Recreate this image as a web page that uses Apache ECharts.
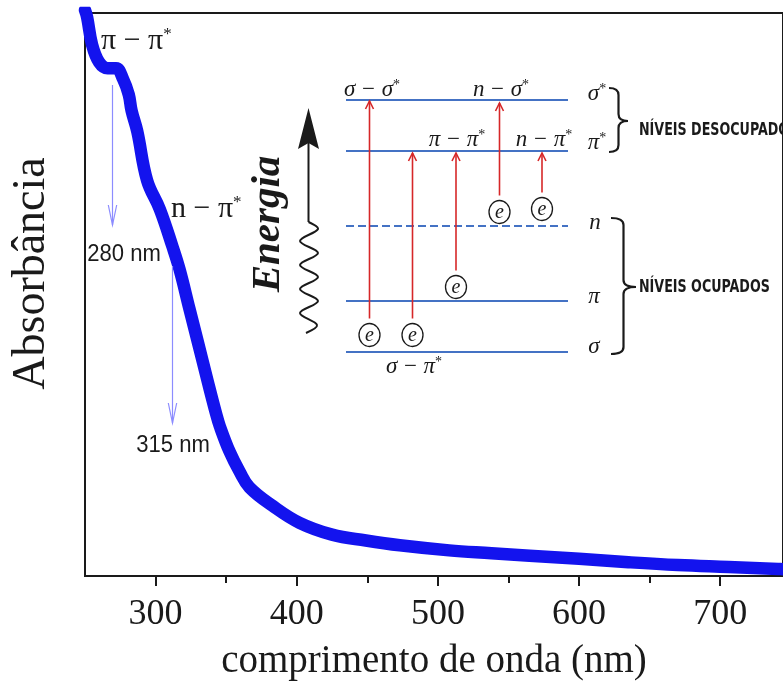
<!DOCTYPE html>
<html>
<head>
<meta charset="utf-8">
<script src="https://cdn.jsdelivr.net/npm/echarts@6/dist/echarts.min.js"></script>
<style>
  html, body { margin: 0; padding: 0; background: #fff; }
  #chart { width: 783px; height: 686px; }
</style>
</head>
<body>
<div id="chart"></div>
<script>
// ---- data (wavelength in nm, absorbance in arbitrary units) ----
const wavelength = [250, 251.5, 255, 260, 266, 272, 277, 281, 283, 287, 294, 303, 312, 317, 324, 330, 337, 343, 345.5, 352.5, 359.5, 366.5, 383, 402, 425, 449, 473, 508, 538, 565, 600, 635, 670, 706, 741, 746];
const absorbance = [2.01, 1.985, 1.888, 1.825, 1.804, 1.804, 1.765, 1.71, 1.653, 1.580, 1.405, 1.303, 1.170, 1.089, 0.949, 0.830, 0.690, 0.574, 0.532, 0.441, 0.371, 0.315, 0.249, 0.189, 0.147, 0.126, 0.109, 0.091, 0.081, 0.072, 0.061, 0.049, 0.039, 0.032, 0.025, 0.024];
const majorTicks = [300, 400, 500, 600, 700];
const minorTicks = [350, 450, 550, 650];
const xTitle = 'comprimento de onda (nm)';
const yTitle = 'Absorbância';

const ink = '#1a1a1a';
const levelBlue = '#4472c4';
const arrowRed = '#d62728';
const serif = "'Liberation Serif', 'Times New Roman', serif";
const sans = "'Liberation Sans', Arial, sans-serif";

const g = [];
function line(x1, y1, x2, y2, stroke, w, dash) {
  g.push({ type: 'line', z: 100, shape: { x1, y1, x2, y2 }, style: { stroke, lineWidth: w, lineDash: dash || null } });
}
function poly(points, stroke, w) {
  g.push({ type: 'polyline', z: 100, shape: { points }, style: { stroke, lineWidth: w, fill: null } });
}
function quad(x1, y1, cx, cy, x2, y2, w) {
  g.push({ type: 'bezierCurve', z: 100, shape: { x1, y1, x2, y2, cpx1: cx, cpy1: cy }, style: { stroke: ink, lineWidth: w, fill: null } });
}
function txt(x, y, text, font, extra) {
  g.push(Object.assign({ type: 'text', z: 101, x, y, style: Object.assign({ text, font, fill: ink, align: 'center', verticalAlign: 'middle' }, (extra && extra.style) || {}) }, (extra && extra.el) || {}));
}
function brace(x0, yTop, yBot, xTip, yMid) {
  const xs = (x0 + xTip) / 2, r = 7, w = 2.2;
  quad(x0, yTop, xs, yTop, xs, yTop + r, w);
  line(xs, yTop + r, xs, yMid - r, ink, w);
  quad(xs, yMid - r, xs, yMid, xTip, yMid, w);
  quad(xTip, yMid, xs, yMid, xs, yMid + r, w);
  line(xs, yMid + r, xs, yBot - r, ink, w);
  quad(xs, yBot - r, xs, yBot, x0, yBot, w);
}

// ---- annotations on the spectrum ----
const lightArrow = '#8c8cff';
line(112.5, 85, 112.5, 225, lightArrow, 1.2);
poly([[108.3, 205], [112.5, 225], [116.7, 205]], lightArrow, 1.2);
line(172.5, 266, 172.5, 423, lightArrow, 1.2);
poly([[168.3, 403], [172.5, 423], [176.7, 403]], lightArrow, 1.2);
const richPi = { a: { font: '30px ' + serif, fill: ink }, s: { font: '17px ' + serif, fill: ink, verticalAlign: 'top', padding: [0, 0, 12, 0] } };
txt(101, 41, '{a|π − π}{s|*}', null, { style: { rich: richPi, align: 'left' } });
txt(171, 209, '{a|n − π}{s|*}', null, { style: { rich: richPi, align: 'left' } });
txt(124, 254, '280 nm', '23px ' + sans, { el: { scaleY: 1.08, scaleX: 0.96 } });
txt(173, 445, '315 nm', '23px ' + sans, { el: { scaleY: 1.08, scaleX: 0.96 } });

// ---- energy-level inset ----
const levels = [100, 151, 226, 301, 352];
levels.forEach((y, i) => line(346, y, 568, y, levelBlue, 2, i === 2 ? [8, 4] : null));

const electrons = [[369.5, 335, 101], [412.5, 335, 153], [456, 287, 153], [499.5, 212, 103], [542, 209, 153]];
electrons.forEach(([x, y, tip]) => {
  line(x, y - 16.5, x, tip, arrowRed, 1.6);
  poly([[x - 4, tip + 8], [x, tip], [x + 4, tip + 8]], arrowRed, 1.6);
  g.push({ type: 'ellipse', z: 100, shape: { cx: x, cy: y, rx: 10.5, ry: 11.5 }, style: { stroke: ink, lineWidth: 1.3, fill: '#fff' } });
  txt(x, y + 1, 'e', 'italic 20px ' + serif);
});

const richLab = { i: { font: 'italic 23px ' + serif, fill: ink }, r: { font: '23px ' + serif, fill: ink }, s: { font: '14px ' + serif, fill: ink, verticalAlign: 'top', padding: [0, 0, 10, 0] } };
function lab(x, y, s) { txt(x, y, s, null, { style: { rich: richLab } }); }
lab(372, 90, '{i|σ}  {r|−}  {i|σ}{s|*}');
lab(501, 90, '{i|n}  {r|−}  {i|σ}{s|*}');
lab(457, 140, '{i|π}  {r|−}  {i|π}{s|*}');
lab(544, 140, '{i|n}  {r|−}  {i|π}{s|*}');
lab(414, 367, '{i|σ}  {r|−}  {i|π}{s|*}');
lab(597, 94, '{i|σ}{s|*}');
lab(597, 143, '{i|π}{s|*}');
lab(595, 223, '{i|n}');
lab(594, 297, '{i|π}');
lab(594, 347, '{i|σ}');

brace(609, 88, 152, 628, 121);
brace(611, 218, 354, 636, 287);
const capsFont = "bold 17px 'DejaVu Sans Condensed', 'Liberation Sans Narrow', sans-serif";
txt(639, 131, 'NÍVEIS DESOCUPADOS', capsFont, { style: { align: 'left' }, el: { scaleX: 0.83 } });
txt(639, 288, 'NÍVEIS OCUPADOS', capsFont, { style: { align: 'left' }, el: { scaleX: 0.83 } });

// energy arrow with wavy part
line(308.5, 140, 308.5, 222, ink, 2);
g.push({ type: 'polyline', z: 100, shape: { smooth: 0.35, points: [[308.5, 222], [318, 229], [300, 241], [318, 253], [300, 265], [318, 277], [300, 289], [318, 301], [300, 313], [317, 325], [306, 333]] }, style: { stroke: ink, lineWidth: 2, fill: null } });
g.push({ type: 'polygon', z: 100, shape: { points: [[308.5, 108], [319, 149], [308.5, 143], [298, 149]] }, style: { fill: ink } });
txt(268, 224, 'Energia', "bold italic 41px " + serif, { el: { rotation: Math.PI / 2 } });

const chart = echarts.init(document.getElementById('chart'), null, { renderer: 'canvas' });
chart.setOption({
  animation: false,
  backgroundColor: '#fff',
  grid: { left: 85, top: 13, right: -3, bottom: 102, show: true, borderColor: ink, borderWidth: 2, backgroundColor: 'transparent' },
  xAxis: [
    {
      type: 'value', min: 250, max: 744.5, position: 'bottom',
      axisLine: { show: true, onZero: false, lineStyle: { color: ink, width: 2 } },
      axisTick: { show: true, length: 10, customValues: majorTicks, lineStyle: { color: ink, width: 2 } },
      axisLabel: { customValues: majorTicks, fontSize: 36, fontFamily: serif, color: ink, margin: 21 },
      splitLine: { show: false },
      name: xTitle, nameLocation: 'middle', nameGap: 66,
      nameTextStyle: { fontSize: 39, fontFamily: serif, color: ink }
    },
    {
      type: 'value', min: 250, max: 744.5, position: 'bottom',
      axisLine: { show: false },
      axisTick: { show: true, length: 7, customValues: minorTicks, lineStyle: { color: ink, width: 2 } },
      axisLabel: { show: false },
      splitLine: { show: false }
    }
  ],
  yAxis: {
    type: 'value', min: 0, max: 2,
    axisLine: { show: true, lineStyle: { color: ink, width: 2 } },
    axisTick: { show: false }, axisLabel: { show: false }, splitLine: { show: false },
    name: yTitle, nameLocation: 'middle', nameGap: 30, nameRotate: 90,
    nameTextStyle: { fontSize: 46, fontFamily: serif, color: ink, padding: [0, 0, 0, 42] }
  },
  series: [{
    type: 'line',
    data: wavelength.map((w, i) => [w, absorbance[i]]),
    smooth: 0.4,
    showSymbol: false, clip: true,
    lineStyle: { color: '#1313ee', width: 12.5, cap: 'round', join: 'round' }
  }],
  graphic: g
});
</script>
</body>
</html>
